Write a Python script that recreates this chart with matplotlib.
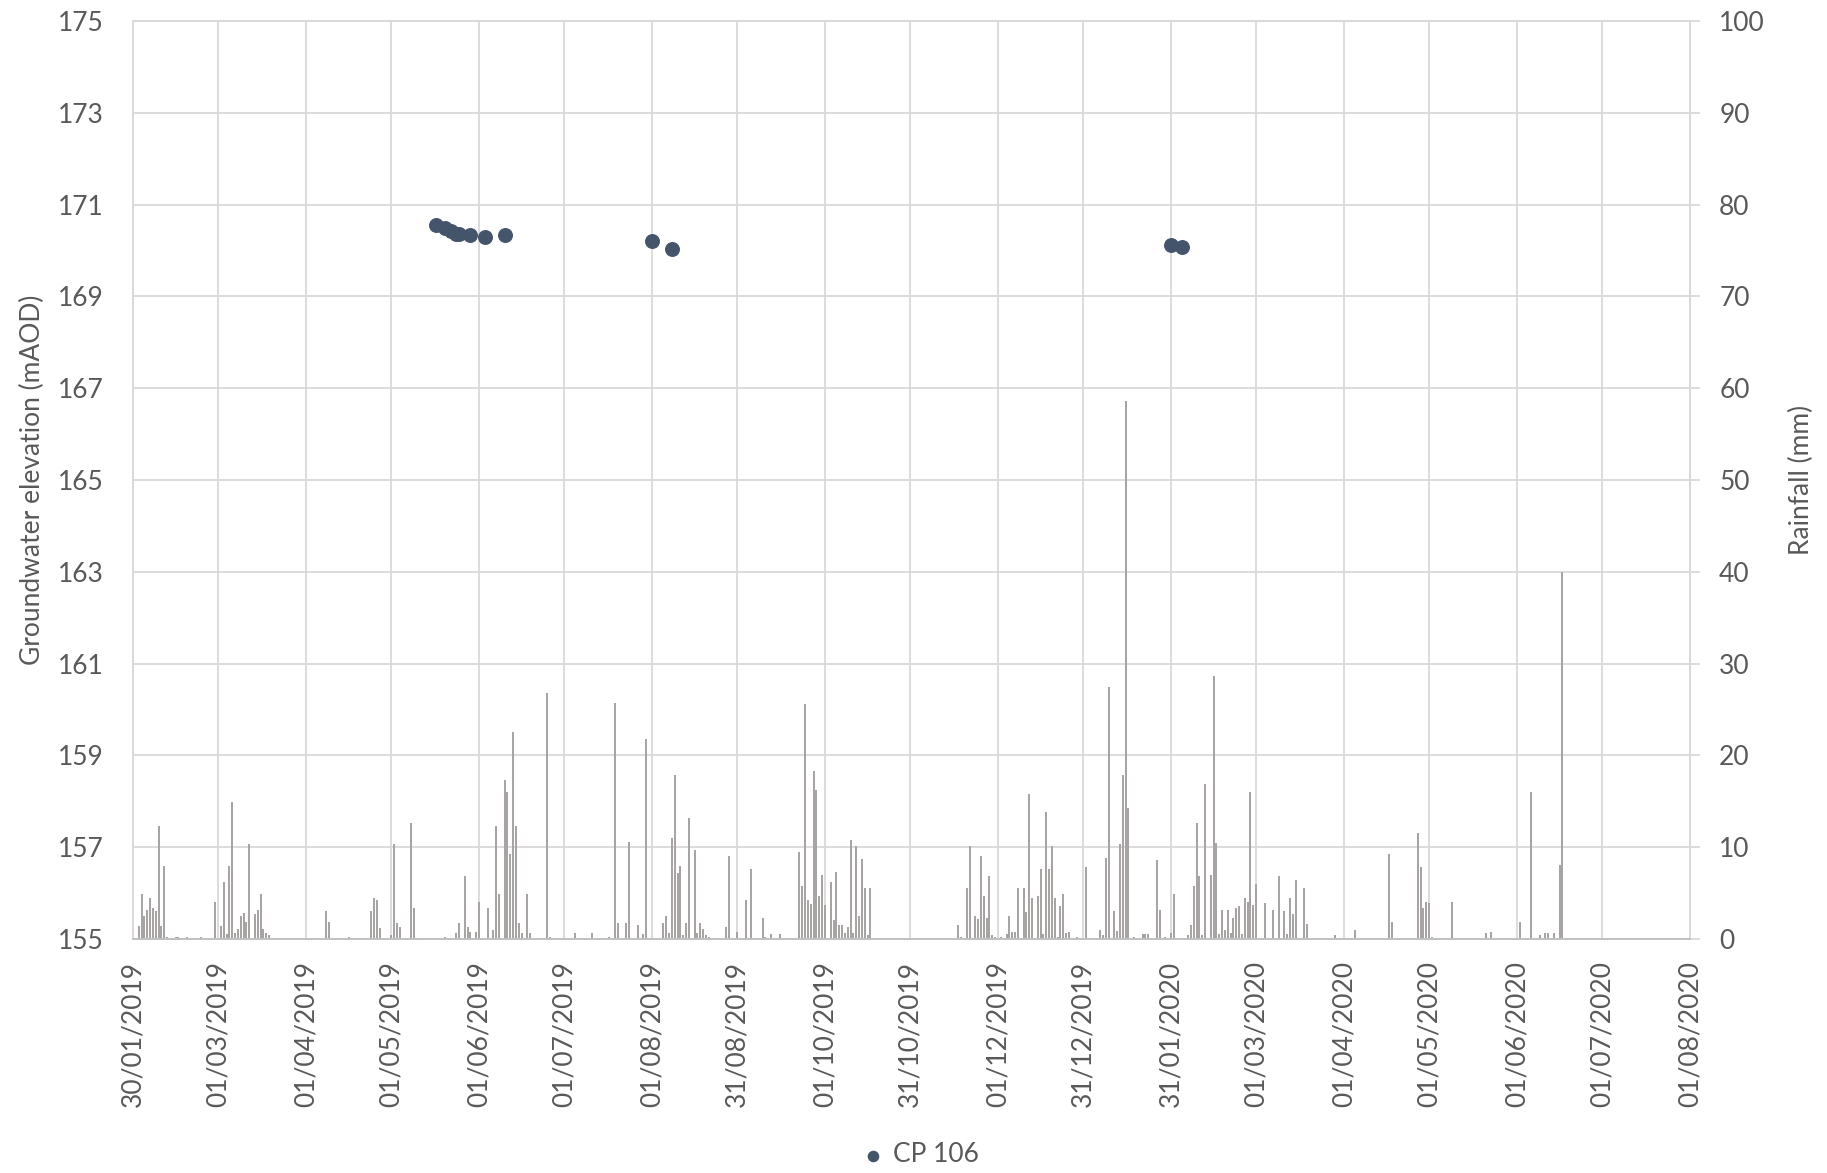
import numpy as np
import pandas as pd
import matplotlib
matplotlib.use("Agg")
import matplotlib.pyplot as plt

plt.rcParams['font.family'] = ['Lato', 'DejaVu Sans']

start = pd.Timestamp("2019-01-30")
end = pd.Timestamp("2020-08-01")

# groundwater elevation at CP 106 (days after 30/01/2019, mAOD)
gw_day = [107, 110, 112, 114, 115, 119, 124, 131, 183, 190, 366, 370]
gw_level = [170.56, 170.50, 170.43, 170.37, 170.37, 170.34, 170.30, 170.34,
            170.21, 170.03, 170.13, 170.08]

# daily rainfall (days after 30/01/2019, mm)
rain_day = [0, 2, 3, 4, 5, 6, 7, 8, 9, 10, 11, 12, 15, 16, 19, 24,
            29, 31, 32, 33, 34, 35, 36, 37, 38, 39, 40, 41, 43, 44, 45, 46, 47, 48,
            68, 69, 76, 84, 85, 86, 87, 91, 92, 93, 94, 98, 99, 100, 110,
            114, 115, 117, 118, 119, 121, 122, 125, 127, 128, 129, 131, 132, 133, 134,
            135, 136, 137, 139, 140, 146, 147,
            156, 162, 168, 170, 171, 174, 175, 178, 180, 181, 187, 188, 189, 190, 191,
            192, 193, 194, 195, 196, 198, 199, 200, 201, 202, 203, 209, 210, 213, 216,
            218, 222, 223, 225, 228,
            235, 236, 237, 238, 239, 240, 241, 242, 243, 244, 246, 247, 248, 249, 250,
            251, 252, 253, 254, 255, 256, 257, 258, 259, 260,
            291, 292, 294, 295, 297, 298, 299, 300, 301, 302, 303, 304,
            306, 308, 309, 310, 311, 312, 314, 315, 316, 317, 319, 320, 321, 322, 323,
            324, 325, 326, 327, 328, 329, 330, 333, 336,
            341, 342, 343, 344, 346, 347, 348, 349, 350, 351, 353, 356, 357, 358, 361,
            362, 364, 366, 367,
            372, 373, 374, 375, 376, 377, 378, 380, 381, 382, 383, 384, 385, 386, 387,
            388, 389, 390, 391, 392, 393, 394, 395, 396, 399, 402, 404, 406, 407, 408,
            409, 410, 413, 414, 424, 431, 443, 444, 453, 454, 455, 456, 457, 458, 465,
            477, 479, 489, 493, 496, 498, 499, 501, 503, 504]
rain_mm = [1.4, 1.4, 4.9, 2.5, 3.2, 4.5, 3.4, 3.1, 12.3, 1.4, 7.9, 0.2, 0.2, 0.2, 0.2, 0.2,
           4.0, 1.4, 6.2, 0.5, 7.9, 14.9, 0.7, 1.1, 2.5, 2.8, 1.9, 10.4, 2.7, 3.2, 4.9, 1.1, 0.6, 0.4,
           3.0, 1.9, 0.2, 3.0, 4.5, 4.3, 1.2, 0.4, 10.4, 1.7, 1.3, 12.6, 3.4, 0.1, 0.2,
           0.6, 1.7, 6.9, 1.3, 0.8, 0.8, 4.0, 3.4, 1.0, 12.3, 4.9, 17.3, 16.0, 9.3, 22.5,
           12.3, 1.7, 0.7, 4.9, 0.6, 26.8, 0.2,
           0.6, 0.6, 0.2, 25.7, 1.7, 1.7, 10.6, 1.5, 0.5, 21.8, 1.7, 2.5, 0.7, 11.0, 17.9,
           7.2, 7.9, 0.4, 1.7, 13.2, 9.7, 0.7, 1.7, 1.1, 0.4, 0.2, 1.3, 9.0, 0.8, 4.3,
           7.6, 2.3, 0.2, 0.5, 0.5,
           9.5, 5.8, 25.6, 4.3, 3.8, 18.3, 16.2, 4.7, 7.0, 3.7, 6.2, 2.1, 7.3, 1.5, 1.5,
           0.7, 1.3, 10.8, 0.7, 10.1, 2.5, 8.7, 5.6, 0.4, 5.6,
           1.5, 0.2, 5.6, 10.1, 2.5, 2.2, 9.0, 4.7, 2.3, 6.9, 0.4, 0.2,
           0.2, 0.5, 2.5, 0.8, 0.8, 5.6, 5.6, 2.9, 15.8, 4.5, 4.7, 7.6, 0.5, 13.8, 7.6,
           10.1, 4.5, 0.2, 3.6, 4.9, 0.7, 0.8, 0.2, 7.8,
           1.0, 0.4, 8.8, 27.4, 3.0, 0.9, 10.3, 17.9, 58.6, 14.3, 0.2, 0.5, 0.5, 0.5, 8.6,
           3.2, 0.2, 0.6, 4.9,
           0.4, 1.5, 5.8, 12.6, 6.9, 0.4, 16.9, 7.0, 28.6, 10.5, 0.5, 3.2, 1.0, 3.2, 0.7,
           2.3, 3.4, 3.6, 0.5, 4.5, 4.0, 16.0, 3.7, 6.0, 3.9, 3.2, 6.9, 3.0, 0.5, 4.5,
           2.7, 6.4, 5.6, 1.6, 0.4, 1.0, 9.3, 1.9, 11.5, 7.8, 3.4, 4.0, 3.9, 0.2, 4.0,
           0.6, 0.8, 1.9, 16.0, 0.4, 0.6, 0.6, 0.6, 8.1, 40.0]

tick_labels = ["30/01/2019", "01/03/2019", "01/04/2019", "01/05/2019", "01/06/2019",
               "01/07/2019", "01/08/2019", "31/08/2019", "01/10/2019", "31/10/2019",
               "01/12/2019", "31/12/2019", "31/01/2020", "01/03/2020", "01/04/2020",
               "01/05/2020", "01/06/2020", "01/07/2020", "01/08/2020"]

grid_c = '#D9D9D9'
text_c = '#595959'
fs = 19

gw_dates = start + pd.to_timedelta(gw_day, unit='D')
rain_dates = start + pd.to_timedelta(rain_day, unit='D')
tick_pos = pd.to_datetime(tick_labels, format="%d/%m/%Y")

fig = plt.figure(figsize=(18.27, 11.73), dpi=100)
ax = fig.add_axes([133 / 1827, 1 - 939 / 1173, 1557 / 1827, 918 / 1173])
ax2 = ax.twinx()

# rainfall bars on the secondary axis, behind the points
ax2.bar(rain_dates, rain_mm, width=0.7, color='#A8A4A4', linewidth=0, zorder=2)
ax2.set_ylim(0, 100)
ax2.set_yticks(np.arange(0, 101, 10))
ax2.grid(axis='y', color=grid_c, linewidth=1.3, zorder=0)
ax2.set_axisbelow(True)
ax2.tick_params(axis='y', length=7, width=1.3, color=grid_c, pad=14,
                labelsize=fs, labelcolor=text_c)
ax2.set_ylabel("Rainfall (mm)", fontsize=fs, color=text_c)
ax2.yaxis.set_label_coords(1.0635, 0.5)

# groundwater points on top
ax.set_zorder(ax2.get_zorder() + 1)
ax.patch.set_visible(False)
pts = ax.scatter(gw_dates, gw_level, s=95, color='#44546A', zorder=3, label='CP 106')
ax.set_ylim(155, 175)
ax.set_yticks(np.arange(155, 176, 2))
ax.tick_params(axis='y', length=0, pad=21, labelsize=fs, labelcolor=text_c)
ax.set_ylabel("Groundwater elevation (mAOD)", fontsize=fs, color=text_c)
ax.yaxis.set_label_coords(-0.0565, 0.5)

ax.set_xlim(start, end)
ax.set_xticks(tick_pos)
ax.set_xticklabels(tick_labels, rotation=90)
ax.tick_params(axis='x', length=0, pad=16, labelsize=fs, labelcolor=text_c)
for t in tick_pos:
    ax2.axvline(t, color=grid_c, linewidth=1.3, zorder=0)

for a in (ax, ax2):
    for s in a.spines.values():
        s.set_color(grid_c)
        s.set_linewidth(1.3)
ax.spines['bottom'].set_color('#BFBFBF')

fig.legend(handles=[pts], loc='center', bbox_to_anchor=(921 / 1827, 1 - 1155 / 1173),
           frameon=False, fontsize=fs, markerscale=0.75, handlelength=0.8,
           handletextpad=0.35, labelcolor=text_c)

fig.savefig("out.png", dpi=100)
